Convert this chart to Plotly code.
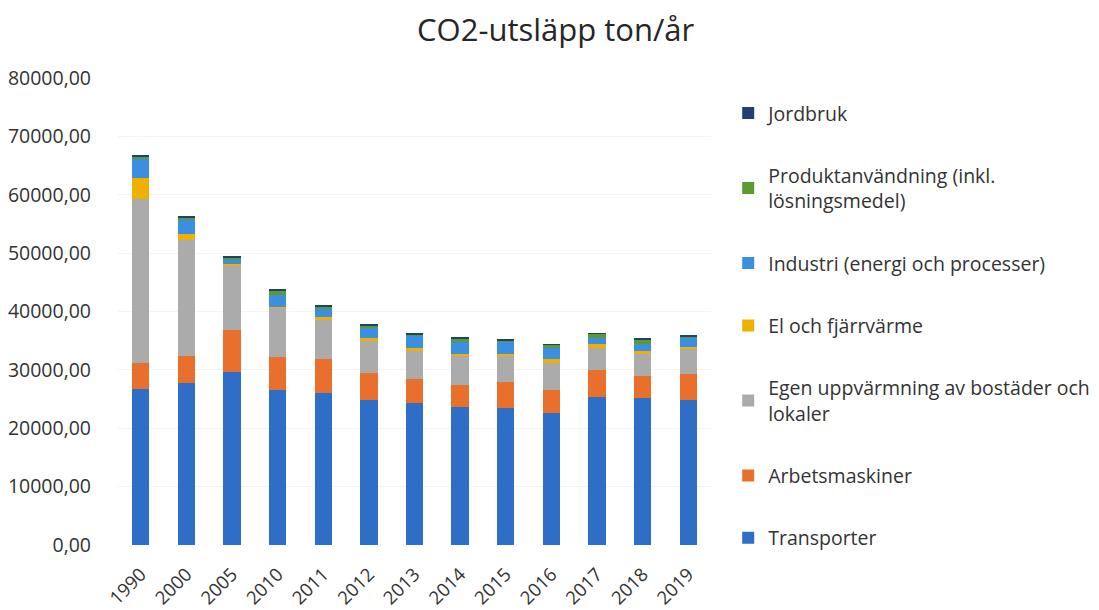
import plotly.graph_objects as go

years = ["1990", "2000", "2005", "2010", "2011", "2012", "2013", "2014", "2015", "2016", "2017", "2018", "2019"]

transporter = [26800, 27700, 29600, 26500, 26000, 24800, 24300, 23600, 23400, 22600, 25300, 25200, 24800]
arbetsmaskiner = [4300, 4600, 7200, 5700, 5800, 4600, 4100, 3800, 4500, 3900, 4600, 3700, 4500]
egen_uppvarmning = [28100, 20000, 11000, 8400, 6900, 5500, 4800, 5100, 4600, 4600, 3900, 3900, 4200]
el_fjarrvarme = [3600, 900, 300, 200, 300, 500, 500, 200, 300, 700, 700, 500, 400]
industri = [3300, 2400, 700, 2000, 1400, 1900, 2200, 2100, 1900, 2000, 1000, 1200, 1500]
produktanvandning = [400, 500, 500, 800, 500, 300, 200, 600, 400, 500, 700, 700, 400]
jordbruk = [150, 100, 100, 100, 100, 100, 100, 100, 100, 100, 100, 100, 100]

series = [
    ("Transporter", transporter, "#2F6EC6"),
    ("Arbetsmaskiner", arbetsmaskiner, "#E8702C"),
    ("Egen uppvärmning av bostäder och<br>lokaler", egen_uppvarmning, "#ABABAB"),
    ("El och fjärrvärme", el_fjarrvarme, "#F0B000"),
    ("Industri (energi och processer)", industri, "#3C8EE0"),
    ("Produktanvändning (inkl.<br>lösningsmedel)", produktanvandning, "#5A9A33"),
    ("Jordbruk", jordbruk, "#203F74"),
]

fig = go.Figure()
n = len(series)
for i, (name, vals, col) in enumerate(series):
    fig.add_trace(go.Bar(x=years, y=vals, name=name, marker=dict(color=col, line=dict(width=0)),
                         legendgroup=f"g{i}", legendrank=100 + (n - i)))

font_family = "Open Sans, Lato, sans-serif"
fig.update_layout(
    barmode="stack",
    bargap=0.62,
    width=1091, height=602,
    paper_bgcolor="white", plot_bgcolor="white",
    margin=dict(l=110, r=388, t=70, b=65, autoexpand=False),
    separators=", ",
    title=dict(text="CO2-utsläpp ton/år", x=0.502, xanchor="center", y=0.964, yanchor="middle",
               font=dict(family=font_family, size=31, color="#262626")),
    font=dict(family=font_family, color="#333333"),
    yaxis=dict(range=[0, 80000], tickvals=[0, 10000, 20000, 30000, 40000, 50000, 60000, 70000, 80000],
               tickformat=".2f", showgrid=True, gridcolor="#F4F4F4", zeroline=False,
               tickfont=dict(size=19.5, color="#333333"), ticks="", ticklabelstandoff=26),
    xaxis=dict(tickangle=-45, tickfont=dict(size=18.5, color="#333333"), showline=False, ticks="",
               ticklabelstandoff=14),
    legend=dict(x=1.029, xanchor="left", y=0.966, yanchor="top", traceorder="grouped",
                tracegroupgap=34, font=dict(size=19.5, color="#333333"), itemwidth=30,
                bgcolor="rgba(0,0,0,0)"),
)

fig.write_html("out.html")
